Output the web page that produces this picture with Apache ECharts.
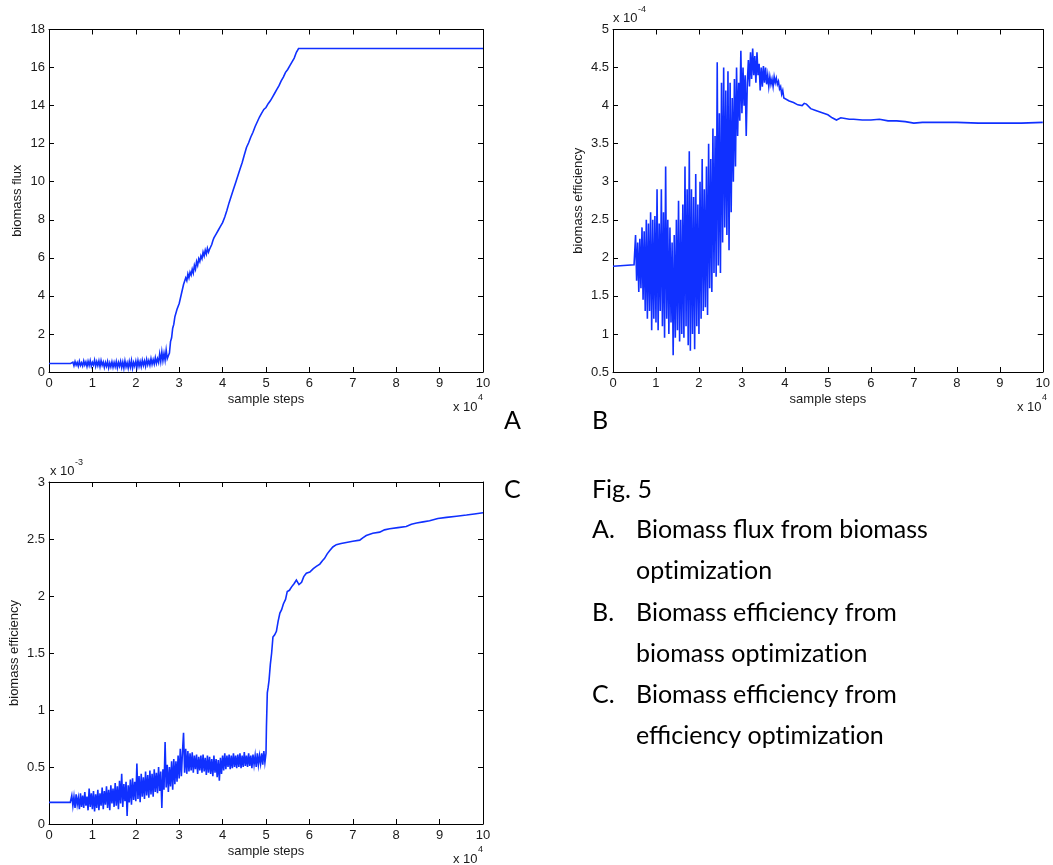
<!DOCTYPE html>
<html>
<head>
<meta charset="utf-8">
<script src="https://cdn.jsdelivr.net/npm/echarts@6/dist/echarts.min.js"></script>
<style>
html,body{margin:0;padding:0;background:#fff;}
#chart{width:1053px;height:865px;}
</style>
</head>
<body>
<div id="chart"></div>
<script>
// ---------- data (x in sample steps) ----------
const xTicks = [0,1,2,3,4,5,6,7,8,9,10]; // labels ×10^4

// Panel A : biomass flux (biomass optimization)
const aStart = [[0,0.45],[5000,0.45]];
const aNoiseFrom = 5000, aNoiseStep = 250;
const aNoise = [0.45,0.38,0.52,0.33,0.55,0.36,0.5,0.3,0.57,0.35,0.49,0.32,0.58,0.37,0.53,0.29,0.56,0.34,0.6,0.31,0.5,
  0.36,0.62,0.3,0.55,0.33,0.58,0.28,0.6,0.35,0.52,0.24,0.5,0.3,0.55,0.22,0.48,0.27,0.53,0.25,0.5,
  0.28,0.55,0.22,0.5,0.3,0.56,0.24,0.52,0.2,0.58,0.27,0.49,0.21,0.55,0.26,0.6,0.2,0.5,0.3,0.57,
  0.25,0.6,0.3,0.55,0.28,0.62,0.35,0.58,0.3,0.66,0.38,0.6,0.36,0.7,0.4,0.65,0.42,0.75,0.45,0.7,
  0.5,0.95,0.55,1.05,0.6,0.98,0.62,1.15,0.7,0.85];
const aRise = [[27750,1.0],[28000,1.6],[28250,1.8],[28500,2.3],[28750,2.5],[29000,2.9],[29250,2.8],[29500,3.3],[29750,3.2],
  [30000,3.6],[30250,3.5],[30500,4.1],[30750,4.0],[31000,4.6],[31250,4.5],[31500,4.95],[31750,4.8],[32000,5.15],[32250,4.95],
  [32500,5.25],[32750,5.1],[33000,5.4],[33250,5.2],[33500,5.6],[33750,5.4],[34000,5.8],[34250,5.6],[34500,5.95],[34750,5.8],
  [35000,6.1],[35250,5.95],[35500,6.3],[35750,6.1],[36000,6.4],[36250,6.2],[36500,6.5],[36750,6.3],[37000,6.45],[37250,6.5],
  [37500,6.7],[37750,6.9],[38000,7.05],[38250,7.0],[38500,7.25],[38750,7.2],[39000,7.45],[39250,7.4],[39500,7.65],[39750,7.6],
  [40000,7.85],[40500,8.15],[41000,8.5],[41500,8.9],
  [42000,9.25],[42500,9.6],[43000,9.95],[43500,10.3],[44000,10.65],[44500,11.0],[45000,11.4],[45500,11.8],[46000,12.05],
  [46500,12.35],[47000,12.6],[47500,12.9],[48000,13.15],[48500,13.4],[49000,13.6],[49500,13.8],[50000,13.9],[50500,14.1],
  [51000,14.25],[51500,14.45],[52000,14.65],[52500,14.85],[53000,15.05],[53500,15.3],[54000,15.5],[54500,15.75],
  [55000,15.9],[55500,16.1],[56000,16.3],[56500,16.5],[57000,16.8],[57500,17.0],[60000,17.0],[65000,17.0],
  [70000,17.0],[80000,17.0],[90000,17.0],[100000,17.0]];
const aYTicks = [0,2,4,6,8,10,12,14,16,18];

// Panel B : biomass efficiency (biomass optimization), ×10^-4
const bStart = [[0,1.89],[2500,1.9],[4900,1.91]];
const bNoiseFrom = 5000, bNoiseStep = 250;
const bNoise = [1.9,2.3,1.7,2.2,1.55,2.25,1.6,2.4,1.45,2.35,1.3,2.5,1.2,2.45,1.3,2.6,1.05,2.5,1.2,2.55,
  1.15,2.9,1.05,2.45,1.3,2.9,1.1,2.6,0.95,3.2,1.2,2.5,1.0,2.4,1.15,2.2,0.72,2.3,0.95,2.5,
  1.05,2.75,0.9,2.5,1.0,2.7,0.95,3.2,1.1,2.9,0.85,3.4,0.78,2.9,1.0,2.8,0.8,3.1,1.1,2.7,
  1.0,3.0,1.2,3.3,1.3,2.9,1.35,3.2,1.25,3.5,1.6,3.3,1.55,3.7,1.8,3.6,1.75,4.57,1.9,3.9,
  1.8,4.3,2.2,4.5,2.4,4.2,2.3,4.45,2.1,4.3,2.6,4.1,3.0,4.35,3.2,4.5,3.6,4.3,3.8,4.72,
  3.9,4.5,4.0,4.4,3.6,
  4.3,4.6,4.25,4.7,4.35,4.75,4.4,4.65,4.3,4.7,4.4,4.55,4.2,4.5,4.25,4.52,4.3,4.5,4.28,4.4,
  4.25,4.38,4.28,4.35,4.25,4.38,4.3,4.36,4.28,4.32,4.22,4.25,4.15,4.2,4.1,4.12];
const bTail = [[41000,4.06],[42000,4.04],[43000,4.01],[44000,4.0],[44500,4.03],[45000,4.02],[46000,3.96],[47000,3.94],
  [48000,3.92],[49000,3.9],[50000,3.88],[51000,3.84],[52000,3.81],[53000,3.84],[54000,3.83],[55000,3.82],[56000,3.82],
  [58000,3.81],[60000,3.81],[62000,3.82],[64000,3.8],[66000,3.8],[68000,3.79],[70000,3.77],[72000,3.78],[75000,3.78],
  [80000,3.78],[85000,3.77],[90000,3.77],[95000,3.77],[100000,3.78]];
const bYTicks = [0.5,1,1.5,2,2.5,3,3.5,4,4.5,5];

// Panel C : biomass efficiency (efficiency optimization), ×10^-3
const cStart = [[0,0.19],[4900,0.19]];
const cNoiseFrom = 5000, cNoiseStep = 250;
const cNoise = [0.2,0.25,0.16,0.24,0.14,0.26,0.17,0.23,0.13,0.27,0.15,0.25,0.14,0.28,0.16,0.24,0.12,0.31,0.15,0.27,0.13,
  0.29,0.11,0.26,0.14,0.3,0.12,0.27,0.16,0.32,0.13,0.29,0.17,0.33,0.14,0.3,0.12,0.34,0.18,0.31,0.15,
  0.36,0.16,0.33,0.13,0.38,0.18,0.44,0.15,0.35,0.2,0.37,0.07,0.34,0.19,0.39,0.17,0.4,0.21,0.37,0.2,
  0.53,0.22,0.42,0.19,0.44,0.24,0.41,0.22,0.46,0.25,0.43,0.23,0.47,0.26,0.44,0.24,0.48,0.28,0.45,0.27,
  0.5,0.29,0.46,0.14,0.48,0.3,0.72,0.32,0.52,0.28,0.5,0.33,0.55,0.3,0.57,0.35,0.55,0.37,0.6,0.4,
  0.66,0.42,0.63,0.8,0.45,0.66,0.44,0.64,0.46,0.62,0.47,0.63,0.45,0.6,0.48,0.61,0.44,0.59,0.47,0.6,
  0.45,0.61,0.46,0.58,0.43,0.6,0.45,0.59,0.44,0.57,0.42,0.6,0.45,0.57,0.41,0.56,0.38,0.58,0.44,0.6,
  0.47,0.62,0.48,0.6,0.5,0.61,0.48,0.6,0.49,0.62,0.5,0.6,0.49,0.61,0.5,0.62,0.49,0.6,0.5,0.63,
  0.51,0.6,0.5,0.62,0.51,0.6,0.49,0.61,0.52,0.6,0.5,0.62,0.52,0.6,0.53,0.62,0.52,0.64,0.54,0.62];
const cRise = [[50100,0.85],[50300,1.15],[50500,1.2],[50700,1.26],[51000,1.4],[51300,1.5],[51600,1.64],[52000,1.66],
  [52400,1.69],[52800,1.78],[53200,1.85],[53600,1.88],[54000,1.93],[54500,1.97],[54900,2.04],[55400,2.05],[55900,2.08],
  [56500,2.11],[57000,2.14],[57600,2.1],[58200,2.12],[58700,2.17],[59300,2.2],[60100,2.21],[60900,2.24],[61600,2.26],
  [62400,2.28],[63000,2.31],[63500,2.33],[64100,2.37],[64700,2.4],[65400,2.43],[66200,2.45],[67300,2.46],[68500,2.47],
  [70000,2.48],[71600,2.49],[72300,2.51],[73100,2.53],[74600,2.55],[76200,2.56],[77300,2.58],[78500,2.59],[80400,2.6],
  [82300,2.61],[83500,2.63],[84700,2.64],[86200,2.65],[87700,2.66],[89600,2.68],[91600,2.69],[93900,2.7],[96200,2.71],
  [98000,2.72],[100000,2.73]];
const cYTicks = [0,0.5,1,1.5,2,2.5,3];

const expand = (from, step, ys) => ys.map((y, i) => [from + i * step, y]);
const seriesA = aStart.concat(expand(aNoiseFrom, aNoiseStep, aNoise), aRise);
const seriesB = bStart.concat(expand(bNoiseFrom, bNoiseStep, bNoise), bTail);
const seriesC = cStart.concat(expand(cNoiseFrom, cNoiseStep, cNoise), cRise);

// ---------- chart ----------
const FONT = 'Liberation Sans, Arial, sans-serif';
const TXT = '#1a1a1a';
const LINE = '#1030ff';

const grids = [
  {left: 49, top: 29.5, width: 434, height: 342.5},
  {left: 613, top: 29.5, width: 434, height: 342.5},
  {left: 49, top: 482, width: 434, height: 342}
];
const yRanges = [
  {ticks: aYTicks, name: 'biomass flux', gap: 25},
  {ticks: bYTicks, name: 'biomass efficiency', gap: 28},
  {ticks: cYTicks, name: 'biomass efficiency', gap: 28}
];

const xAxes = [], yAxes = [];
grids.forEach((g, i) => {
  const common = {
    gridIndex: i, type: 'value', min: xTicks[0] * 10000, max: xTicks[xTicks.length - 1] * 10000, interval: 10000,
    axisLine: {show: true, onZero: false, lineStyle: {color: '#000', width: 1}},
    axisTick: {show: true, inside: true, length: 5, lineStyle: {color: '#000'}},
    splitLine: {show: false}
  };
  xAxes.push(Object.assign({}, common, {
    position: 'bottom',
    name: 'sample steps', nameLocation: 'middle', nameGap: 21,
    nameTextStyle: {fontFamily: FONT, fontSize: 13, color: TXT},
    axisLabel: {margin: 5, fontFamily: FONT, fontSize: 13, color: TXT, formatter: v => String(v / 10000)}
  }));
  xAxes.push(Object.assign({}, common, {position: 'top', axisLabel: {show: false}}));
  const yr = yRanges[i];
  const yc = {
    gridIndex: i, type: 'value', min: yr.ticks[0], max: yr.ticks[yr.ticks.length - 1],
    interval: yr.ticks[1] - yr.ticks[0],
    axisLine: {show: true, onZero: false, lineStyle: {color: '#000', width: 1}},
    axisTick: {show: true, inside: true, length: 5, lineStyle: {color: '#000'}},
    splitLine: {show: false}
  };
  yAxes.push(Object.assign({}, yc, {
    position: 'left',
    name: yr.name, nameLocation: 'middle', nameGap: yr.gap, nameRotate: 90,
    nameTextStyle: {fontFamily: FONT, fontSize: 13, color: TXT},
    axisLabel: {margin: 4, fontFamily: FONT, fontSize: 13, color: TXT}
  }));
  yAxes.push(Object.assign({}, yc, {position: 'right', axisLabel: {show: false}}));
});

const mk = (data, i) => ({
  type: 'line', data: data, xAxisIndex: i * 2, yAxisIndex: i * 2,
  showSymbol: false, symbol: 'none', sampling: null, animation: false,
  lineStyle: {color: LINE, width: 1.6, join: 'miter'}, itemStyle: {color: LINE}
});

function txt(x, y, text, size, family, color) {
  return {type: 'text', x: x, y: y, silent: true,
    style: {text: text, font: size + 'px ' + family, fill: color || TXT,
      align: 'left', verticalAlign: 'middle', textAlign: 'left', textVerticalAlign: 'middle'}};
}
const CAP = 'Lato, "Open Sans", sans-serif';
const ZW = '\u200C'; // avoid the Lato "ti" ligature
const graphics = [
  txt(453, 407, 'x 10', 13, FONT), txt(478, 398, '4', 9, FONT),
  txt(1017, 407, 'x 10', 13, FONT), txt(1042, 398, '4', 9, FONT),
  txt(453, 859, 'x 10', 13, FONT), txt(478, 850, '4', 9, FONT),
  txt(613, 18, 'x 10', 13, FONT), txt(638, 10, '-4', 9, FONT),
  txt(50, 471, 'x 10', 13, FONT), txt(75, 463, '-3', 9, FONT),
  txt(504, 421, 'A', 25, CAP, '#000'),
  txt(592, 421, 'B', 25, CAP, '#000'),
  txt(504, 490, 'C', 25, CAP, '#000'),
  txt(592, 490, 'Fig. 5', 25, CAP, '#000'),
  txt(592, 530, 'A.', 25, CAP, '#000'),
  txt(636, 530, 'Biomass flux from biomass', 25, CAP, '#000'),
  txt(636, 571, 'opt' + ZW + 'imizat' + ZW + 'ion', 25, CAP, '#000'),
  txt(592, 612.5, 'B.', 25, CAP, '#000'),
  txt(636, 612.5, 'Biomass efficiency from', 25, CAP, '#000'),
  txt(636, 654, 'biomass opt' + ZW + 'imizat' + ZW + 'ion', 25, CAP, '#000'),
  txt(592, 695, 'C.', 25, CAP, '#000'),
  txt(636, 695, 'Biomass efficiency from', 25, CAP, '#000'),
  txt(636, 736, 'efficiency opt' + ZW + 'imizat' + ZW + 'ion', 25, CAP, '#000')
];

const chart = echarts.init(document.getElementById('chart'), null, {renderer: 'canvas'});
chart.setOption({
  animation: false,
  backgroundColor: '#fff',
  grid: grids,
  xAxis: xAxes,
  yAxis: yAxes,
  series: [mk(seriesA, 0), mk(seriesB, 1), mk(seriesC, 2)],
  graphic: graphics
});
</script>
</body>
</html>
